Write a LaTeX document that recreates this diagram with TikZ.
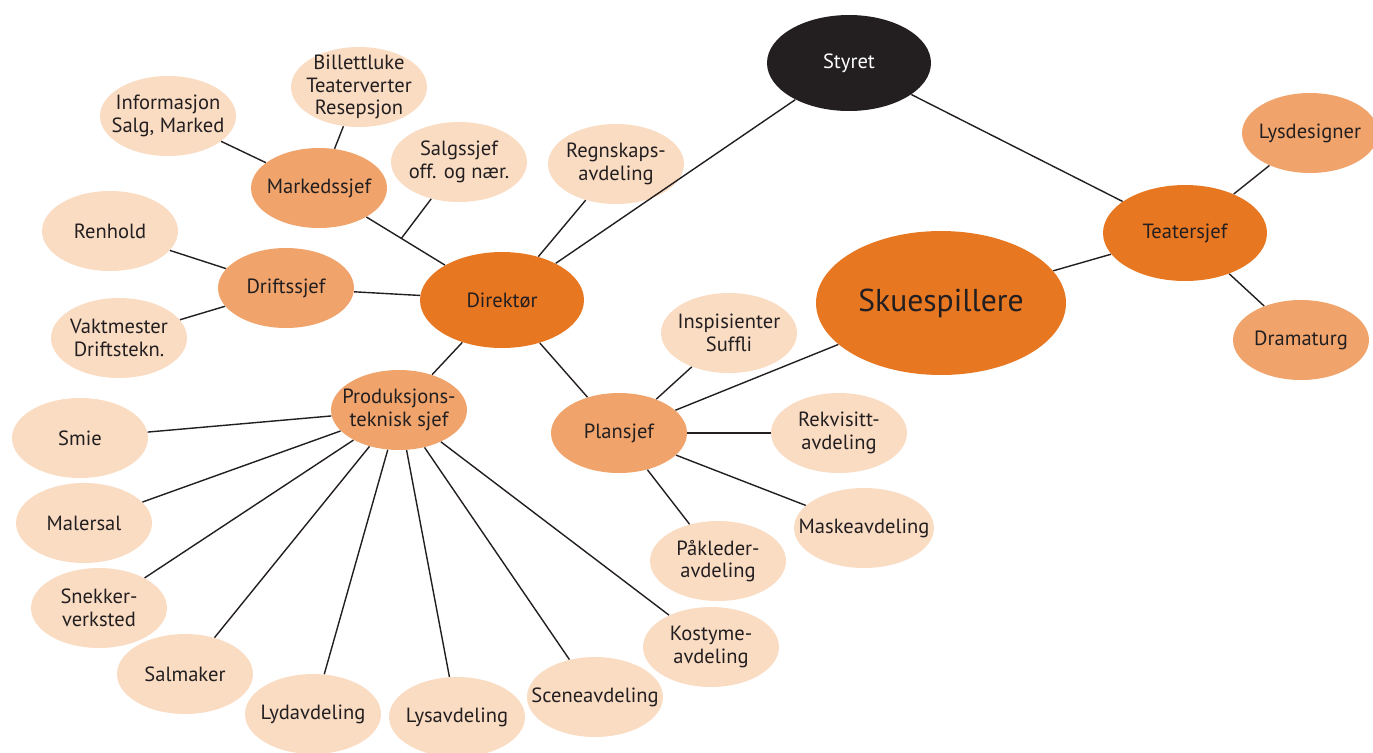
\documentclass[tikz,border=0pt]{standalone}
\usepackage{fontspec}
\setmainfont{PT Sans}
\usetikzlibrary{shapes,calc,positioning}
\definecolor{sort}{HTML}{231F20}
\definecolor{morkoransje}{HTML}{E87722}
\definecolor{oransje}{HTML}{F0A46C}
\definecolor{lysoransje}{HTML}{FADCC3}
\newcommand{\Tekst}{\fontsize{11.7}{12.8}\selectfont}

\begin{document}
\begin{tikzpicture}[
                x=0.02cm, y=-0.02cm,
                boble/.style={ellipse, inner xsep=-9pt, inner ysep=-7pt, align=center, text=sort, font=\Tekst,
                              minimum width=2.72cm, minimum height=1.6cm},
                lys/.style={boble, fill=lysoransje},
                mid/.style={boble, fill=oransje},
                mork/.style={boble, fill=morkoransje, minimum width=3.28cm, minimum height=1.92cm},
                linje/.style={draw=sort, line width=0.8pt}]

                \useasboundingbox (0,0) rectangle (1373,752);

                \node[mork, fill=sort, text=white] (S) at (849,63) {Styret};
                \node[mork] (D) at (502,300) {Direktør};
                \node[mork] (T) at (1185,233) {Teatersjef};
                \node[mork, minimum width=5cm, minimum height=2.88cm, font=\fontsize{18}{20}\selectfont] (K) at (941,303) {Skuespillere};

                \node[mid] (L) at (1310,133) {Lysdesigner};
                \node[mid] (M) at (1301,340) {Dramaturg};
                \node[mid] (A) at (319,188) {Markedssjef};
                \node[mid] (B) at (286,288) {Driftssjef};
                \node[mid] (P) at (399,410) {Produksjons-\\teknisk sjef};
                \node[mid] (Q) at (619,433) {Plansjef};

                \node[lys] (R) at (616,164) {Regnskaps-\\avdeling};
                \node[lys] (G) at (459,162) {Salgssjef\\off. og nær.};
                \node[lys] (E) at (359,87) {Billettluke\\Teaterverter\\Resepsjon};
                \node[lys] (I) at (168,116) {Informasjon\\Salg, Marked};
                \node[lys] (H) at (110,231) {Renhold};
                \node[lys] (V) at (119,338) {Vaktmester\\Driftstekn.};

                \node[lys] (N) at (729,333) {Inspisienter\\Suffli};
                \node[lys] (O) at (839,433) {Rekvisitt-\\avdeling};
                \node[lys] (U) at (864,528) {Maskeavdeling};
                \node[lys] (W) at (718,561) {Påkleder-\\avdeling};

                \node[lys] (p1) at (80,438) {Smie};
                \node[lys] (p2) at (84,523) {Malersal};
                \node[lys] (p3) at (99,608) {Snekker-\\verksted};
                \node[lys] (p4) at (185,674) {Salmaker};
                \node[lys] (p5) at (313,714) {Lydavdeling};
                \node[lys] (p6) at (457,717) {Lysavdeling};
                \node[lys] (p7) at (595,697) {Sceneavdeling};
                \node[lys] (p8) at (711,647) {Kostyme-\\avdeling};

                \coordinate (X) at ($(A)!0.45!(D)$);

                \draw[linje] (S) -- (D);
                \draw[linje] (S) -- (T);
                \draw[linje] (T) -- (L);
                \draw[linje] (T) -- (M);
                \draw[linje] (T) -- (K);
                \draw[linje] (K) -- (Q);
                \draw[linje] (D) -- (R);
                \draw[linje] (D) -- (A);
                \draw[linje] (G) -- (X);
                \draw[linje] (D) -- (B);
                \draw[linje] (D) -- (P);
                \draw[linje] (D) -- (Q);
                \draw[linje] (A) -- (I);
                \draw[linje] (A) -- (E);
                \draw[linje] (B) -- (H);
                \draw[linje] (B) -- (V);
                \draw[linje] (Q) -- (N);
                \draw[linje] (Q) -- (O);
                \draw[linje] (Q) -- (U);
                \draw[linje] (Q) -- (W);
                \foreach \i in {1,...,8}
                    \draw[linje] (P) -- (p\i);

            \end{tikzpicture}
\end{document}
